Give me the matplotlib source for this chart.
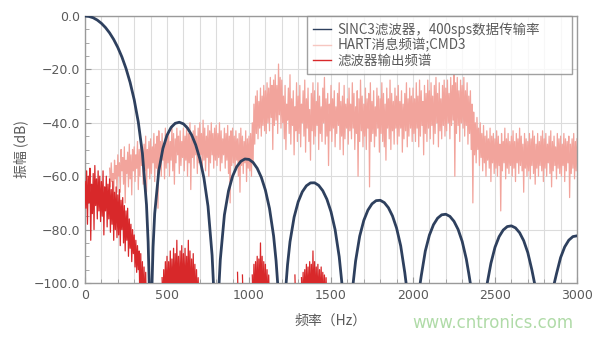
import numpy as np
import matplotlib
matplotlib.use("Agg")
import matplotlib.pyplot as plt
from matplotlib.ticker import MultipleLocator, FuncFormatter
from matplotlib.lines import Line2D

plt.rcParams['font.family'] = ['Noto Sans CJK SC', 'DejaVu Sans']

nan = np.nan

# ---- SINC3 filter response (400 sps) ----
sinc_freq = [0, 25, 50, 75, 100, 125, 150, 175, 200, 225, 250, 275, 300, 325, 350, 375, 385, 391.6, 400,
             408.8, 415, 425, 450, 475, 500, 525, 550, 575, 600, 625, 650, 675, 700, 725, 750, 775, 783.1, 800,
             817.6, 825, 850, 875, 900, 925, 950, 975, 1000, 1025, 1050, 1075, 1100, 1125, 1150, 1165, 1174.7, 1200,
             1226.4, 1235, 1250, 1275, 1300, 1325, 1350, 1375, 1400, 1425, 1450, 1475, 1500, 1525, 1550, 1566.3, 1600,
             1635.2, 1650, 1675, 1700, 1725, 1750, 1775, 1800, 1825, 1850, 1875, 1900, 1925, 1950, 1957.8, 2000,
             2044.0, 2050, 2075, 2100, 2125, 2150, 2175, 2200, 2225, 2250, 2275, 2300, 2325, 2340, 2349.4, 2400,
             2452.8, 2475, 2500, 2525, 2550, 2575, 2600, 2625, 2650, 2675, 2700, 2725, 2740.9, 2800,
             2861.7, 2875, 2900, 2925, 2950, 2975, 3000]
sinc_db = [0, -0.17, -0.67, -1.53, -2.74, -4.33, -6.33, -8.79, -11.77, -15.34, -19.65, -24.87, -31.36, -39.73, -51.38, -70.73, -84.6, -100, nan,
           -100, -86.6, -73.99, -57.93, -49.62, -44.67, -41.72, -40.19, -39.79, -40.39, -41.96, -44.54, -48.27, -53.44, -60.64, -71.24, -89.65, -100, nan,
           -100, -91.28, -74.50, -65.54, -59.99, -56.48, -54.43, -53.55, -53.71, -54.85, -57.04, -60.40, -65.22, -72.09, -82.38, -91.66, -100, nan,
           -100, -93.18, -84.55, -75.35, -69.57, -65.85, -63.59, -62.51, -62.47, -63.44, -65.45, -68.64, -73.30, -80.02, -90.15, -100, nan,
           -100, -91.78, -82.46, -76.56, -72.72, -70.35, -69.16, -69.02, -69.89, -71.80, -74.90, -79.46, -86.09, -96.14, -100, nan,
           -100, -97.44, -88.04, -82.07, -78.16, -75.72, -74.46, -74.25, -75.05, -76.90, -79.93, -84.44, -91.01, -96.4, -100, nan,
           -100, -92.64, -86.61, -82.65, -80.16, -78.86, -78.60, -79.36, -81.16, -84.15, -88.62, -95.14, -100, nan,
           -100, -96.54, -90.48, -86.48, -83.96, -82.62, -82.33]

# ---- HART message spectrum (CMD3) ----
# local peaks at 150, 160, ..., 3000 Hz
hart_hi_start = 150
hart_hi = [
    -57, -55, -59, -54, -56,
    -52, -55, -50, -53, -49, -54, -51, -48, -52, -50,
    -49, -52, -47, -50, -46, -51, -48, -45, -50, -47,
    -46, -49, -44, -48, -45, -43, -47, -44, -48, -42,
    -45, -43, -47, -41, -44, -46, -42, -45, -43, -47,
    -42, -45, -41, -44, -40, -46, -43, -41, -45, -42,
    -40, -44, -39, -42, -45, -41, -43, -40, -44, -42,
    -41, -44, -40, -43, -46, -42, -44, -41, -45, -43,
    -42, -45, -43, -46, -44, -42, -45, -47, -43, -46,
    -45, -44, -40, -33, -30, -28, -32, -27, -30, -26,
    -28, -25, -27, -23, -26, -24, -22, -26, -18, -23,
    -24, -30, -26, -33, -27, -22, -31, -28, -34, -25,
    -30, -26, -33, -28, -24, -31, -27, -35, -29, -25,
    -28, -32, -25, -30, -34, -27, -23, -31, -29, -33,
    -26, -31, -28, -34, -29, -25, -32, -30, -26, -33,
    -31, -27, -33, -25, -29, -34, -28, -31, -24, -30,
    -33, -27, -31, -29, -25, -32, -28, -34, -27, -30,
    -31, -25, -29, -33, -27, -31, -24, -29, -32, -27,
    -30, -26, -32, -28, -33, -29, -25, -31, -27, -30,
    -27, -31, -25, -30, -24, -28, -32, -26, -29, -24,
    -28, -25, -30, -26, -23, -29, -25, -31, -26, -24,
    -27, -24, -29, -23, -26, -22, -25, -23, -28, -24,
    -26, -23, -28, -25, -30, -28, -33, -36, -40, -38,
    -42, -40, -44, -41, -45, -43, -46, -42, -45, -44,
    -46, -43, -45, -48, -44, -47, -42, -46, -44, -47,
    -45, -43, -47, -44, -46, -42, -45, -48, -44, -46,
    -47, -44, -46, -43, -45, -48, -44, -47, -45, -43,
    -46, -44, -48, -45, -43, -47, -45, -49, -44, -46,
    -45, -48, -44, -46, -47, -45, -48, -46, -44, -47,
    -46]
# local troughs at 155, 165, ..., 2995 Hz
hart_lo_start = 155
hart_lo = [
    -64, -62, -68, -61, -66,
    -60, -66, -58, -63, -70, -59, -64, -61, -67, -58,
    -62, -57, -65, -60, -56, -63, -58, -66, -57, -61,
    -59, -55, -62, -57, -72, -56, -60, -54, -61, -57,
    -55, -60, -54, -58, -63, -55, -52, -59, -56, -53,
    -58, -54, -60, -55, -65, -53, -57, -52, -59, -55,
    -52, -57, -54, -58, -53, -60, -55, -52, -57, -54,
    -56, -53, -58, -55, -52, -57, -54, -59, -70, -56,
    -55, -58, -54, -60, -66, -56, -59, -55, -62, -57,
    -58, -60, -55, -48, -44, -46, -42, -45, -41, -43,
    -44, -40, -43, -38, -50, -41, -39, -44, -37, -42,
    -40, -46, -50, -39, -44, -48, -41, -52, -43, -47,
    -44, -49, -40, -45, -51, -42, -47, -54, -43, -48,
    -45, -41, -50, -44, -47, -40, -48, -45, -56, -43,
    -47, -42, -49, -44, -41, -50, -45, -52, -46, -42,
    -48, -43, -46, -42, -50, -44, -60, -47, -43, -49,
    -45, -50, -42, -64, -47, -44, -49, -45, -42, -51,
    -44, -47, -49, -54, -42, -46, -50, -43, -48, -42,
    -48, -45, -42, -51, -46, -43, -49, -45, -42, -47,
    -44, -47, -42, -49, -45, -41, -52, -44, -47, -42,
    -46, -41, -48, -44, -40, -49, -43, -46, -41, -45,
    -43, -40, -46, -41, -39, -60, -44, -41, -47, -40,
    -42, -45, -41, -48, -44, -50, -70, -52, -55, -50,
    -56, -53, -58, -55, -60, -54, -57, -62, -55, -59,
    -57, -60, -56, -73, -58, -55, -61, -57, -59, -56,
    -60, -57, -62, -55, -59, -56, -58, -66, -57, -60,
    -58, -61, -56, -59, -63, -57, -60, -56, -58, -62,
    -57, -60, -55, -59, -64, -58, -56, -61, -57, -59,
    -60, -56, -62, -58, -55, -68, -59, -57, -61, -58]

# ---- Filter output spectrum ----
# local peaks at 0, 10, ..., 1500 Hz
out_hi_start = 0
out_hi = [
    -62, -58, -60, -57, -63, -59, -56, -61, -58, -60,
    -62, -58, -64, -60, -63, -61, -65, -62, -66, -64,
    -67, -65, -69, -68, -71, -73, -72, -76, -78, -80,
    -82, -84, -86, -88, -89, -92, -94, -96, nan, nan,
    nan, nan, nan, nan, nan, nan, nan, -98, -95, -92,
    -90, -92, -88, -91, -87, -89, -84, -90, -88, -86,
    -89, -87, -90, -84, -88, -91, -89, -93, -95, -98,
    nan, nan, nan, nan, nan, nan, nan, nan, nan, nan,
    nan, nan, nan, nan, nan, nan, nan, nan, nan, nan,
    nan, nan, nan, -96, nan, nan, -97, nan, nan, nan,
    nan, nan, -97, -93, -92, -90, -91, -85, -90, -92,
    -93, -95, -97, nan, nan, nan, nan, nan, nan, nan,
    nan, nan, nan, nan, nan, nan, nan, nan, -97, nan,
    nan, nan, -98, -96, -95, -93, -94, -92, -93, -88,
    -92, -94, -93, -95, -94, -96, -97, -98, nan, nan,
    nan]
# local troughs at 5, 15, ..., 1495 Hz
out_lo_start = 5
out_lo = [
    -72, -78, -70, -84, -74, -80, -71, -76, -73, -77,
    -75, -82, -73, -79, -76, -81, -78, -84, -80, -83,
    -82, -86, -80, -85, -88, -84, -90, -87, -92, -89,
    -94, -96, -95, -110, -110, -110, -110, -110, nan, nan,
    nan, nan, nan, nan, nan, nan, nan, -110, -110, -110,
    -110, -110, -110, -110, -110, -110, -110, -110, -110, -110,
    -110, -110, -110, -110, -110, -110, -110, -110, -110, -110,
    nan, nan, nan, nan, nan, nan, nan, nan, nan, nan,
    nan, nan, nan, nan, nan, nan, nan, nan, nan, nan,
    nan, nan, nan, -110, nan, nan, -110, nan, nan, nan,
    nan, nan, -110, -110, -110, -110, -110, -110, -110, -110,
    -110, -110, -110, nan, nan, nan, nan, nan, nan, nan,
    nan, nan, nan, nan, nan, nan, nan, nan, -110, nan,
    nan, nan, -110, -110, -110, -110, -110, -110, -110, -110,
    -110, -110, -110, -110, -110, -110, -110, -110, nan, nan]

legend_labels = ["SINC3滤波器，400sps数据传输率", "HART消息频谱;CMD3", "滤波器输出频谱"]

C_SINC = '#2e405e'
C_HART = '#f2a49c'
C_OUT = '#d8282a'
C_TXT = '#5a5a5a'


def interleave(hi_start, hi, lo_start, lo, step=10):
    f = np.concatenate([hi_start + step*np.arange(len(hi)), lo_start + step*np.arange(len(lo))])
    v = np.concatenate([np.asarray(hi, float), np.asarray(lo, float)])
    order = np.argsort(f, kind='stable')
    return f[order], v[order]


fig = plt.figure(figsize=(5.96, 3.39), dpi=100)
ax = fig.add_axes([85/596, 1-283/339, (577-85)/596, (283-16)/339])

hart_f, hart_v = interleave(hart_hi_start, hart_hi, hart_lo_start, hart_lo)
out_f, out_v = interleave(out_hi_start, out_hi, out_lo_start, out_lo)

ax.plot(hart_f, hart_v, color=C_HART, lw=0.9, zorder=2)
ax.plot(out_f, out_v, color=C_OUT, lw=0.9, zorder=3)
ax.plot(sinc_freq, sinc_db, color=C_SINC, lw=2.0, zorder=4, solid_capstyle='round')

ax.set_xlim(0, 3000)
ax.set_ylim(-100, 0)
ax.xaxis.set_major_locator(MultipleLocator(500))
ax.xaxis.set_minor_locator(MultipleLocator(100))
ax.yaxis.set_major_locator(MultipleLocator(20))
ax.yaxis.set_minor_locator(MultipleLocator(5))
ax.yaxis.set_major_formatter(FuncFormatter(lambda v, p: f"{v:.1f}".replace('-', '\u2212')))
ax.xaxis.set_major_formatter(FuncFormatter(lambda v, p: f"{v:.0f}"))

ax.grid(True, which='minor', axis='x', color='#dcdcdc', lw=0.8)
ax.grid(True, which='major', axis='x', color='#dcdcdc', lw=0.8)
ax.grid(True, which='major', axis='y', color='#dcdcdc', lw=0.8)
ax.set_axisbelow(True)

for s in ax.spines.values():
    s.set_color('#9a9a9a')
    s.set_linewidth(1.0)

ax.tick_params(axis='both', which='major', colors='#9a9a9a', labelcolor=C_TXT,
               labelsize=9, direction='in', length=4, width=0.8,
               labelfontfamily='DejaVu Sans')
ax.tick_params(axis='both', which='minor', colors='#9a9a9a', direction='in', length=3, width=0.6)
ax.tick_params(axis='x', which='major', pad=4)

ax.set_xlabel("频率（Hz）", fontsize=10, color=C_TXT, labelpad=9)
ax.set_ylabel("振幅 (dB)", fontsize=10, color=C_TXT, labelpad=4)

handles = [Line2D([], [], color=C_SINC, lw=1.0),
           Line2D([], [], color='#f6c6c0', lw=1.0),
           Line2D([], [], color=C_OUT, lw=1.0)]
leg = ax.legend(handles, legend_labels, loc='upper left',
                bbox_to_anchor=((307-85)/492, 0.0, (572-307)/492, 1.0), mode='expand',
                fontsize=9.7, frameon=True, fancybox=False, borderaxespad=0,
                handlelength=1.3, handletextpad=0.5, labelspacing=0.12,
                borderpad=0.45, labelcolor=C_TXT)
leg.get_frame().set_edgecolor('#8a8a8a')
leg.get_frame().set_linewidth(1.0)
leg.set_zorder(10)

fig.text(493/596, 1-323/339, "www.cntronics.com", color='#b0dba8', fontsize=12,
         ha='center', va='center', family=['DejaVu Sans'])

fig.savefig("out.png", dpi=100, facecolor='white')
